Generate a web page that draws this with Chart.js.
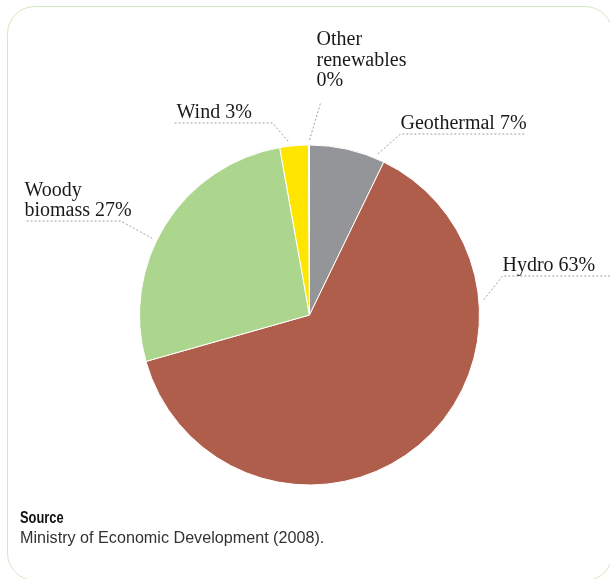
<!DOCTYPE html>
<html>
<head>
<meta charset="utf-8">
<script src="https://cdn.jsdelivr.net/npm/chart.js@4.4.0/dist/chart.umd.min.js"></script>
<style>
  html, body { margin: 0; padding: 0; background: #fff; width: 610px; height: 579px; overflow: hidden; }
  #box { position: absolute; left: 7px; top: 6px; width: 604px; height: 573px; border: 1.5px solid #d3e9c1; border-radius: 28px; }
  #wrap { position: absolute; left: 0; top: 0; width: 610px; height: 579px; }
  #src { position: absolute; left: 20px; top: 507px; font-family: "Liberation Sans Narrow", "Liberation Sans", sans-serif; color: #111; }
  #src .h { font-weight: bold; font-size: 16.5px; line-height: 20px; transform: scaleX(0.78); transform-origin: left; }
  #src .t { font-size: 17px; line-height: 22px; color: #333; transform: scaleX(0.95); transform-origin: left; white-space: nowrap; }
</style>
</head>
<body>
<div id="box"></div>
<div id="wrap"><canvas id="c" width="610" height="579"></canvas></div>
<div id="src"><div class="h">Source</div><div class="t">Ministry of Economic Development (2008).</div></div>
<script>
const categories = ["Geothermal", "Hydro", "Woody biomass", "Wind", "Other renewables"];
const values = [7.2, 63.4, 26.6, 2.7, 0.1];
const labelTexts = [["Geothermal 7%"], ["Hydro 63%"], ["Woody", "biomass 27%"], ["Wind 3%"], ["Other", "renewables", "0%"]];
const colors = ["#939598", "#b05e4c", "#acd58e", "#ffe500", "#8fc3cf"];

// annotation layout: leader start angle (deg from top, clockwise), elbow offset from centre, horizontal run, text placement
const leaders = [
  { ang: 23,  elbow: [91, -181],  run: 125, tx: 0 },
  { ang: 85,  elbow: [193, -39],  run: 120, tx: 0 },
  { ang: 296, elbow: [-189, -94], run: -96, tx: -96 },
  { ang: 353, elbow: [-37, -192], run: -98, tx: -96 },
  { ang: 0,   elbow: [11, -212],  run: 0,   tx: -4 }
];

const labelPlugin = {
  id: 'labelPlugin',
  afterDatasetsDraw(chart) {
    const ctx = chart.ctx;
    const meta = chart.getDatasetMeta(0);
    const arc = meta.data[0];
    const cx = arc.x, cy = arc.y, R = arc.outerRadius;
    ctx.save();
    ctx.strokeStyle = '#a0a0a0';
    ctx.lineWidth = 1;
    ctx.setLineDash([2, 2]);
    ctx.font = '20px "Liberation Serif", serif';
    ctx.fillStyle = '#1a1a1a';
    ctx.textBaseline = 'alphabetic';
    leaders.forEach((L, i) => {
      const a = (L.ang - 90) * Math.PI / 180;
      const sx = cx + Math.cos(a) * (R + 5);
      const sy = cy + Math.sin(a) * (R + 5);
      const ex = cx + L.elbow[0], ey = cy + L.elbow[1];
      ctx.beginPath();
      ctx.moveTo(sx, sy);
      ctx.lineTo(ex, ey);
      if (L.run !== 0) ctx.lineTo(ex + L.run, ey);
      ctx.stroke();
      const lines = labelTexts[i];
      const lh = 20;
      const tx = ex + L.tx;
      if (i === 4) {
        lines.forEach((t, k) => {
          ctx.fillText(t, tx, ey - 17 - (lines.length - 1 - k) * 20.5);
        });
      } else {
        lines.forEach((t, k) => {
          ctx.fillText(t, tx, ey - 5 - (lines.length - 1 - k) * lh);
        });
      }
    });
    ctx.restore();
  }
};

new Chart(document.getElementById('c'), {
  type: 'pie',
  data: {
    labels: categories,
    datasets: [{
      data: values,
      backgroundColor: colors,
      borderColor: '#ffffff',
      borderWidth: 1
    }]
  },
  options: {
    responsive: false,
    animation: false,
    rotation: 0,
    layout: { padding: { top: 144.5, bottom: 93.5, left: 139, right: 130 } },
    plugins: { legend: { display: false }, tooltip: { enabled: false } }
  },
  plugins: [labelPlugin]
});
</script>
</body>
</html>
